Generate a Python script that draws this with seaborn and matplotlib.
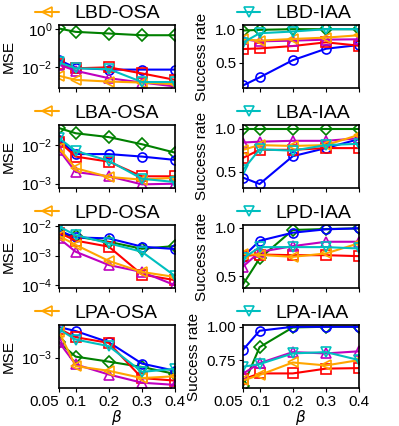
import matplotlib
matplotlib.use("Agg")
import matplotlib.pyplot as plt
import seaborn as sns
from matplotlib.ticker import NullLocator, FixedLocator, LogFormatterMathtext, FormatStrFormatter

beta = [0.05, 0.1, 0.2, 0.3, 0.4]
xtick_labels = ["0.05", "0.1", "0.2", "0.3", "0.4"]

# series drawn in each panel (same colour / marker in every panel)
series = ["green", "blue", "red", "magenta", "orange", "cyan"]
colors = {"green": "#008000", "blue": "#0000ff", "red": "#ff0000",
          "magenta": "#bf00bf", "orange": "#ffa500", "cyan": "#00bfbf"}
markers = {"green": "D", "blue": "o", "red": "s", "magenta": "^", "orange": "<", "cyan": "v"}

# MSE panels (left column)
lbd_osa = {
    "green":   [1.08, 0.72, 0.59, 0.48, 0.48],
    "blue":    [0.024, 0.0095, 0.0076, 0.0076, 0.0076],
    "red":     [0.015, 0.0089, 0.010, 0.0048, 0.0022],
    "magenta": [0.0138, 0.0066, 0.0027, 0.0016, 0.0010],
    "orange":  [0.0036, 0.0022, 0.0018, 0.0016, 0.0013],
    "cyan":    [0.018, 0.0089, 0.0081, 0.0017, 0.0017],
}
lba_osa = {
    "green":   [0.0272, 0.020, 0.0159, 0.0104, 0.0063],
    "blue":    [0.0135, 0.0058, 0.0058, 0.0050, 0.0041],
    "red":     [0.0122, 0.0050, 0.0037, 0.00155, 0.00155],
    "magenta": [0.0074, 0.0020, 0.00155, 0.00096, 0.0010],
    "orange":  [0.0082, 0.0025, 0.00149, 0.00127, 0.00143],
    "cyan":    [0.0149, 0.0070, 0.0039, 0.00134, 0.0011],
}
lpd_osa = {
    "green":   [0.0056, 0.0044, 0.0029, 0.0017, 0.0021],
    "blue":    [0.0069, 0.0041, 0.0038, 0.0020, 0.00166],
    "red":     [0.0059, 0.0032, 0.0020, 0.00023, 0.000148],
    "magenta": [0.0038, 0.00135, 0.00048, 0.00028, 0.0001],
    "orange":  [0.0046, 0.0023, 0.00066, 0.00028, 0.00019],
    "cyan":    [0.0095, 0.0049, 0.0026, 0.00134, 0.000204],
}
lpa_osa = {
    "green":   [0.00157, 0.00103, 0.00089, 0.00076, 0.00062],
    "blue":    [0.00245, 0.00218, 0.00157, 0.00084, 0.00068],
    "red":     [0.00234, 0.00182, 0.00154, 0.00055, 0.00051],
    "magenta": [0.00157, 0.00082, 0.00061, 0.00048, 0.00045],
    "orange":  [0.00212, 0.00078, 0.00068, 0.00055, 0.00058],
    "cyan":    [0.0023, 0.0017, 0.0014, 0.00066, 0.00072],
}

# success rate panels (right column)
lbd_iaa = {
    "green":   [0.98, 0.99, 1.0, 1.0, 1.0],
    "blue":    [0.165, 0.285, 0.54, 0.71, 0.765],
    "red":     [0.705, 0.715, 0.75, 0.805, 0.755],
    "magenta": [0.85, 0.82, 0.83, 0.845, 0.85],
    "orange":  [0.85, 0.83, 0.855, 0.875, 0.91],
    "cyan":    [0.80, 0.94, 0.965, 1.0, 1.0],
}
lba_iaa = {
    "green":   [1.0, 1.0, 1.0, 1.0, 1.0],
    "blue":    [0.43, 0.355, 0.68, 0.775, 0.88],
    "red":     [0.66, 0.755, 0.755, 0.775, 0.775],
    "magenta": [0.84, 0.85, 0.86, 0.86, 0.89],
    "orange":  [0.755, 0.81, 0.80, 0.81, 0.93],
    "cyan":    [0.52, 0.76, 0.745, 0.81, 0.825],
}
lpd_iaa = {
    "green":   [0.417, 0.683, 0.976, 0.986, 0.993],
    "blue":    [0.70, 0.865, 0.948, 0.983, 0.993],
    "red":     [0.707, 0.724, 0.717, 0.717, 0.707],
    "magenta": [0.60, 0.75, 0.81, 0.855, 0.855],
    "orange":  [0.73, 0.72, 0.70, 0.735, 0.84],
    "cyan":    [0.683, 0.80, 0.80, 0.80, 0.786],
}
lpa_iaa = {
    "green":   [0.554, 0.847, 0.995, 1.0, 1.0],
    "blue":    [0.827, 0.97, 1.0, 1.0, 1.0],
    "red":     [0.605, 0.65, 0.65, 0.686, 0.69],
    "magenta": [0.648, 0.727, 0.81, 0.80, 0.816],
    "orange":  [0.597, 0.638, 0.732, 0.71, 0.75],
    "cyan":    [0.70, 0.72, 0.80, 0.81, 0.75],
}

row_names = ["LBD", "LBA", "LPD", "LPA"]
mse_data = [lbd_osa, lba_osa, lpd_osa, lpa_osa]
sr_data = [lbd_iaa, lba_iaa, lpd_iaa, lpa_iaa]
mse_ylim = [(8.1e-4, 1.62), (7.8e-4, 0.033), (8.1e-5, 0.0108), (4.1e-4, 2.6e-3)]
mse_ticks = [[1e-2, 1.0], [1e-3, 1e-2], [1e-4, 1e-3, 1e-2], [1e-3]]
sr_ylim = [(0.125, 1.06), (0.31, 1.047), (0.38, 1.028), (0.54, 1.013)]
sr_ticks = [[0.5, 1.0], [0.5, 1.0], [0.5, 1.0], [0.75, 1.0]]

sns.set_theme(style="ticks")
plt.rcParams['font.family'] = ['Liberation Sans', 'DejaVu Sans']
plt.rcParams['text.color'] = 'black'
plt.rcParams['axes.labelcolor'] = 'black'

fig = plt.figure(figsize=(3.99, 4.26), dpi=100)
FS = 11

bottoms = [0.793, 0.559, 0.324, 0.089]
for i in range(4):
    for j in range(2):
        left = 0.148 if j == 0 else 0.609
        ax = fig.add_axes([left, bottoms[i], 0.291, 0.148])
        data = mse_data[i] if j == 0 else sr_data[i]
        leg_key = "orange" if j == 0 else "cyan"
        leg_label = row_names[i] + ("-OSA" if j == 0 else "-IAA")
        for s in series:
            c = colors[s]
            sns.lineplot(x=beta, y=data[s], ax=ax, color=c, marker=markers[s],
                         mfc="none", mec=c, mew=1.2, ms=6.5, lw=1.5,
                         label=leg_label if s == leg_key else None)
        ax.set_xlim(0.05, 0.4)
        ax.set_xticks(beta)
        if j == 0:
            ax.set_yscale("log")
            ax.set_ylim(*mse_ylim[i])
            ax.yaxis.set_major_locator(FixedLocator(mse_ticks[i]))
            ax.yaxis.set_major_formatter(LogFormatterMathtext())
            ax.yaxis.set_minor_locator(NullLocator())
            ax.set_ylabel("MSE", fontsize=FS)
            leg_x = -0.27
        else:
            ax.set_ylim(*sr_ylim[i])
            ax.set_yticks(sr_ticks[i])
            if i == 3:
                ax.yaxis.set_major_formatter(FormatStrFormatter("%.2f"))
            else:
                ax.yaxis.set_major_formatter(FormatStrFormatter("%.1f"))
            ax.set_ylabel("Success rate", fontsize=FS)
            leg_x = -0.12
        ax.tick_params(labelsize=FS, length=3, width=0.8, pad=2,
                       color="black", labelcolor="black")
        if i < 3:
            ax.tick_params(labelbottom=False)
        else:
            ax.set_xticklabels(xtick_labels)
            ax.get_xticklabels()[0].set_ha("right")
            ax.set_xlabel(r"$\beta$", fontsize=FS, labelpad=-1)
        for sp in ax.spines.values():
            sp.set_linewidth(1.2)
            sp.set_color("black")
        leg = ax.legend(loc="lower left", bbox_to_anchor=(leg_x, 0.92), frameon=False,
                        fontsize=14, handlelength=1.2, handletextpad=0.8, borderaxespad=0)
        for t in leg.get_texts():
            t.set_color("black")

fig.savefig("out.png", dpi=100)
